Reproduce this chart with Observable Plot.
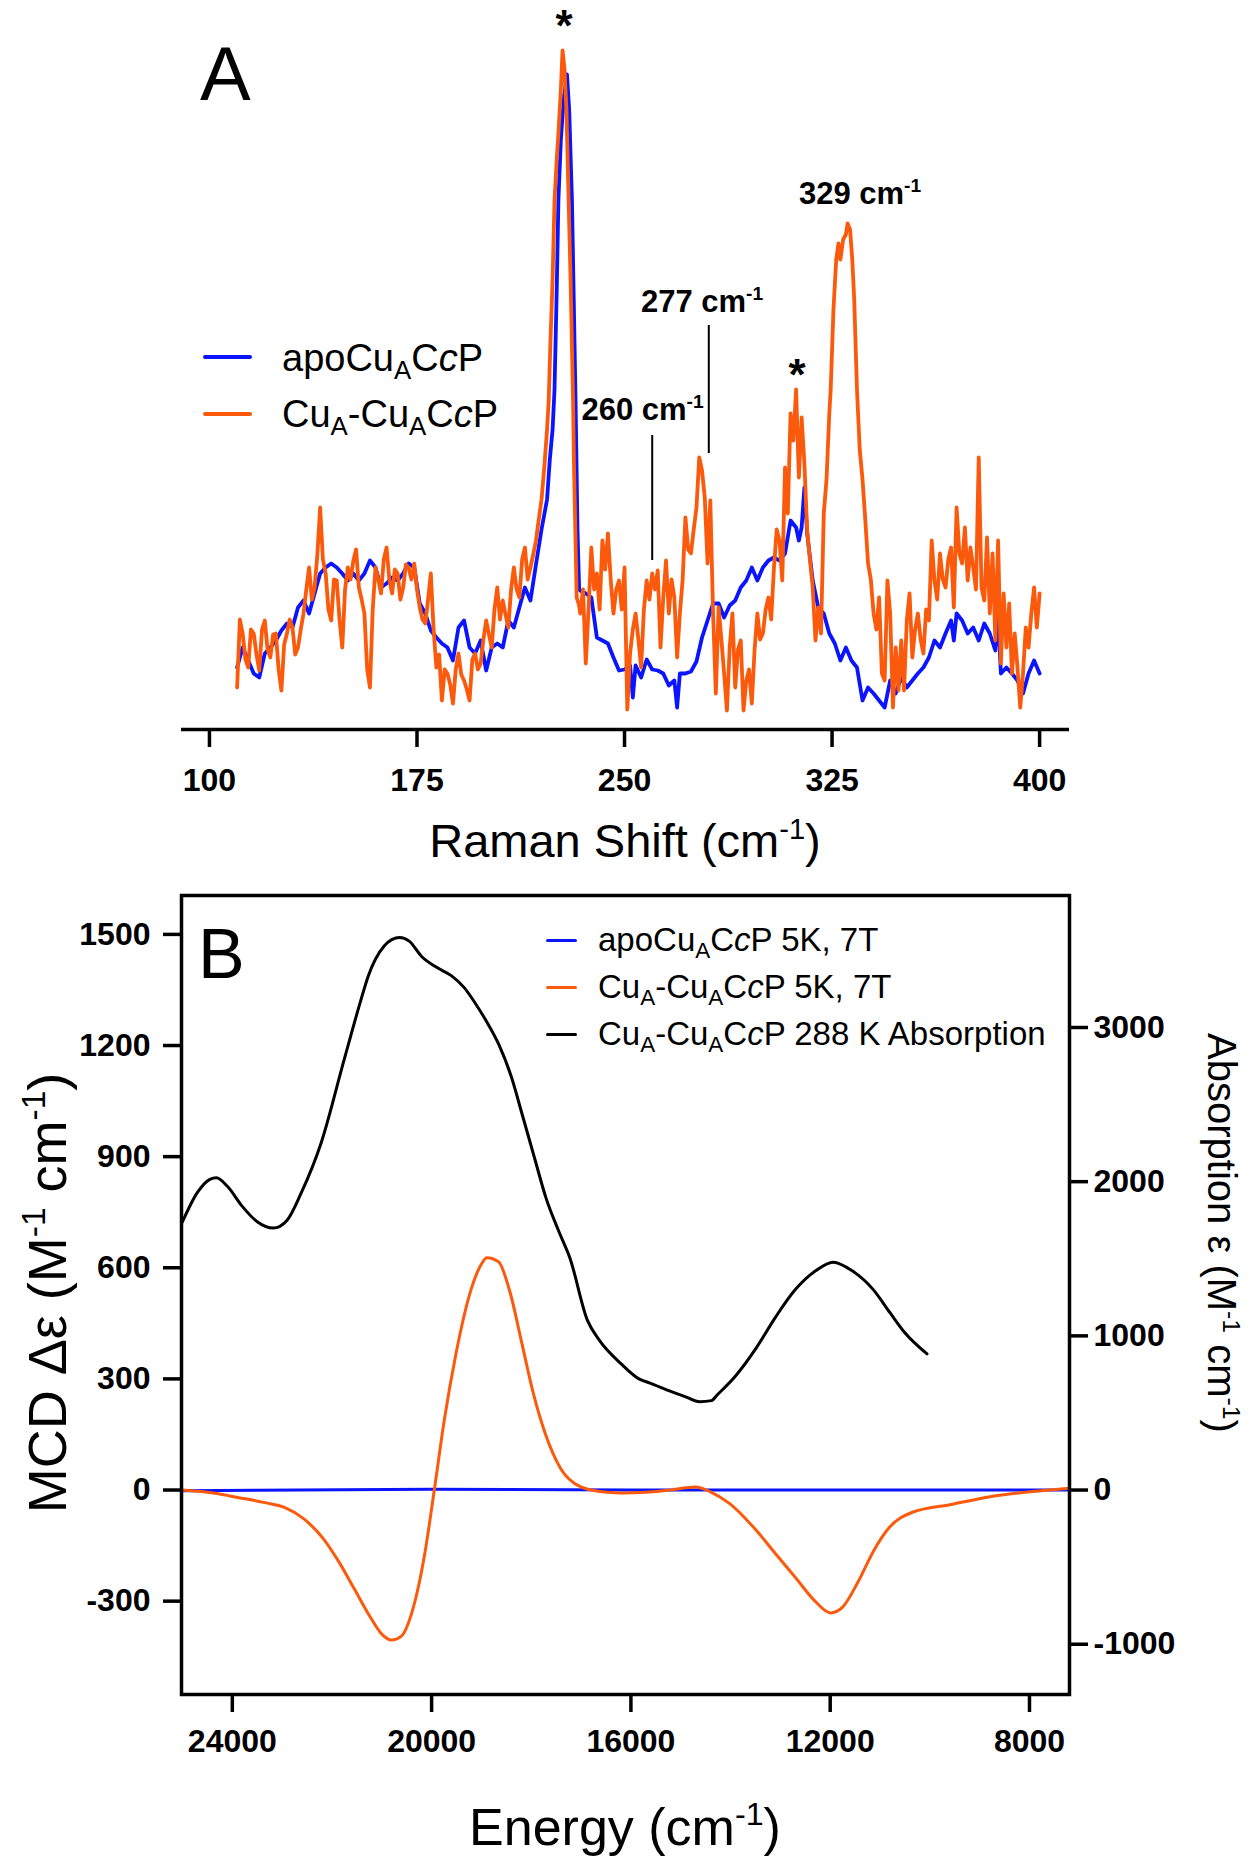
<!DOCTYPE html>
<html><head><meta charset="utf-8">
<script src="https://cdn.jsdelivr.net/npm/d3@7"></script>
<script src="https://cdn.jsdelivr.net/npm/@observablehq/plot@0.6"></script>
<style>
html,body{margin:0;padding:0;background:#fff;}
#wrap{position:relative;width:1260px;height:1861px;overflow:hidden;background:#fff;font-family:"Liberation Sans",Arial,sans-serif;color:#000;}
#wrap svg{position:absolute;left:0;}
.abs{position:absolute;white-space:nowrap;line-height:1;}
.sup{font-size:.62em;position:relative;top:-.62em;}
.sub{font-size:.68em;position:relative;top:.32em;}
.ln{position:absolute;}
</style></head><body><div id="wrap"></div>
<script>
// ---------- Panel A: Raman data ----------
const ramanTicks = [100, 175, 250, 325, 400];
const cuaShift = [110,111,112,113,114,115,116,117,118,119,120,121,122,123,124,125,126,127,128,129,130,131,132,133,134,135,136,137,138,139,140,141,142,143,144,145,146,147,148,149,150,151,152,153,154,155,156,157,158,159,160,161,162,163,164,165,166,167,168,169,170,171,172,173,174,175,176,177,178,179,180,181,182,183,184,185,186,187,188,189,190,191,192,193,194,195,196,197,198,199,200,201,202,203,204,205,206,207,208,209,210,211,212,213,214,215,216,217,218,219,220,221,222,222.6,223.2,224,224.7,225.5,226.1,227,227.6,228.3,229,229.8,230.5,231.4,231.7,232.7,233.5,234,235,236,237,238,239,240,241,242,243,244,245,246,247,248,249,250,251,252,253,254,255,256,257,258,259,260,261,262,263,264,265,266,267,268,269,270,271,272,273,274,275,276,277,278,279,280,281,282,283,284,285,286,287,288,289,290,291,292,293,294,295,296,297,298,299,300,301,302,303,304,305,306,307,308,309,310,311,312,313,314,315,316,317,318,319,320,321,322,323,324,324.5,325.5,326.5,327.3,328,329,330,330.6,331.5,332.3,333,334,335,336,337,338,339,340,341,342,343,344,345,346,347,348,349,350,351,352,353,354,355,356,357,358,359,360,361,362,363,364,365,366,367,368,369,370,371,372,373,374,375,376,377,378,379,380,381,382,383,384,385,386,387,388,389,390,391,392,393,394,395,396,397,398,399,400];
const cuaInt = [42,110,96,70,62,100,96,75,59,100,109,80,72,95,96,60,39,85,96,110,102,75,82,100,116,140,162,130,142,175,222,170,156,120,109,150,149,110,82,140,162,150,169,180,142,130,116,60,42,120,162,150,136,170,182,150,136,160,156,130,142,165,162,150,166,140,122,110,106,130,156,100,62,75,29,60,56,45,26,60,76,55,49,40,29,70,76,60,66,90,109,95,82,120,142,110,129,115,102,140,162,140,132,170,182,150,162,175,189,210,230,262,300,329,386,450,529,570,596,640,679,660,620,529,450,329,270,132,125,116,140,66,120,182,140,156,120,189,160,196,150,116,140,149,120,162,20,76,100,116,90,62,120,149,130,156,140,159,82,132,169,116,150,132,72,116,150,212,180,176,200,222,272,259,232,166,229,116,36,122,90,56,19,82,116,42,80,89,19,49,60,26,80,116,90,96,120,132,110,162,200,189,149,262,216,316,289,340,252,312,266,199,170,142,89,122,96,216,250,316,340,420,470,486,470,490,495,506,500,470,430,340,280,250,210,166,150,116,100,132,56,49,149,116,22,82,39,89,39,109,136,72,100,116,90,76,120,109,189,149,130,176,150,142,170,182,122,222,176,166,202,149,182,162,140,272,142,129,192,116,176,89,189,66,136,82,126,56,96,62,22,56,102,82,116,142,102,136];
const apoShift = [110,112,114,116,118,120,122,124,126,128,130,132,134,136,138,140,142,144,146,148,150,152,154,156,158,160,162,164,166,168,170,172,174,176,178,180,182,184,186,188,190,192,194,196,198,200,202,204,206,208,210,212,214,216,218,220,222,223,224,224.7,225.5,226.1,227,228,229.2,230,231,232.3,233,233.6,234,236,238,240,242,244,246,248,250,252,253,254,256,258,260,262,264,266,268,269,270,272,274,276,278,280,282,284,286,288,290,292,294,296,298,300,302,304,306,308,310,312,313,314,315,316,318,320,322,324,326,328,330,332,334,336,338,340,342,344,346,348,350,352,354,356,358,360,362,364,366,368,369,370,372,374,376,378,380,382,384,385,386,388,390,392,394,396,398,400];
const apoInt = [62,82,69,56,52,76,82,89,99,106,102,122,129,116,136,156,162,166,162,156,149,156,149,156,169,162,142,146,152,149,156,166,162,126,116,99,92,86,82,69,102,109,82,76,89,59,82,86,82,109,102,122,142,129,165,200,230,270,300,340,440,529,590,630,655,620,529,329,200,140,139,136,132,92,89,86,72,59,60,64,32,64,52,70,60,59,56,44,49,22,56,56,58,68,92,109,126,126,112,124,129,142,149,162,149,162,169,172,169,176,209,202,189,202,242,196,149,122,116,96,86,69,82,69,62,29,42,36,29,22,49,36,52,42,49,56,62,72,89,82,96,109,89,116,109,96,102,89,106,96,79,116,56,62,56,49,36,56,69,56];
const peakMarks = [{s:228.3, i:711}, {s:312.5, i:362}];
const peakLabels = [{t:"329", s:335.3, i:525}, {t:"277", s:278.2, i:417}, {t:"260", s:256.7, i:309}];
const markerLines = [{s:280.45, lo:276, hi:404}, {s:260.0, lo:169, hi:294}];

// ---------- Panel B: MCD / absorption data ----------
const energyTicks = [24000, 20000, 16000, 12000, 8000];
const mcdTicks = [-300, 0, 300, 600, 900, 1200, 1500];
const absTicks = [-1000, 0, 1000, 2000, 3000];
const mcdE = [25000,24283,23892,23344,22953,22564,22175,21861,21547,21235,21000,20806,20611,20375,20140,19946,19750,19517,19204,19000,18891,18657,18422,18187,17953,17718,17405,17016,16626,16200,15687,15200,14905,14700,14416,14023,13476,13085,12694,12305,11992,11757,11445,11132,10819,10350,9570,8788,8084,7200];
const mcdCuA = [0,-10,-20,-34,-47,-78,-131,-194,-268,-342,-389,-405,-395,-321,-174,0,185,364,543,610,627,616,532,395,258,152,57,9,-4,-8,-6,0,6,8,-4,-36,-110,-174,-237,-300,-332,-317,-249,-165,-102,-60,-39,-18,-6,5];
const apoE = [25000, 20000, 16000, 12000, 7200];
const mcdApo = [-2, 2, 0, 0, 0];
const absE = [25000,24700,24450,24321,24100,23800,23500,23178,22900,22617,22216,21754,21414,21273,20952,20800,20640,20450,20200,19900,19605,19350,19127,18900,18652,18400,18176,17940,17700,17450,17223,16872,16635,16200,15828,15617,15200,14913,14616,14383,14265,13900,13483,13100,12700,12300,11941,11550,11136,10800,10510,10057];
const absEps = [1740,1930,2015,2025,1970,1840,1740,1699,1750,1927,2253,2793,3184,3333,3529,3570,3584,3560,3460,3390,3336,3260,3159,3040,2890,2680,2429,2160,1890,1680,1504,1100,972,820,719,694,640,606,573,580,618,740,922,1120,1300,1420,1478,1420,1300,1150,1023,883];

const BLUE = "#0a14ff", ORANGE = "#fb5a0c";
const FONT = "Liberation Sans, Arial, sans-serif";
const wrap = document.getElementById("wrap");
const fmt = d => String(d);

const cuaRows = cuaShift.map((s, k) => ({s, i: cuaInt[k]}));
const apoRows = apoShift.map((s, k) => ({s, i: apoInt[k]}));

const baseStyle = {background: "transparent", fontFamily: FONT, fontSize: "32px", fontWeight: "bold", color: "#000", overflow: "visible"};

const plotA = Plot.plot({
  width: 1260, height: 870,
  marginLeft: 181, marginRight: 191, marginTop: 40, marginBottom: 141,
  style: baseStyle,
  x: {domain: [89.9, 410.8]},
  y: {domain: [0, 689], axis: null},
  marks: [
    Plot.line(apoRows, {x: "s", y: "i", stroke: BLUE, strokeWidth: 3.8, strokeLinejoin: "round"}),
    Plot.line(cuaRows, {x: "s", y: "i", stroke: ORANGE, strokeWidth: 3.8, strokeLinejoin: "round"}),
    Plot.ruleX(markerLines, {x: "s", y1: "lo", y2: "hi", stroke: "#000", strokeWidth: 2}),
    Plot.ruleY([0], {stroke: "#000", strokeWidth: 3.5}),
    Plot.axisX({ticks: ramanTicks, tickSize: 18, tickPadding: 21, strokeWidth: 3.5, tickFormat: fmt, label: null, fontSize: 32, fontWeight: "bold"})
  ]
});
plotA.style.top = "0px";
wrap.appendChild(plotA);

const mcdRows = mcdE.map((e, k) => ({e, m: mcdCuA[k]}));
const apoMcdRows = apoE.map((e, k) => ({e, m: mcdApo[k]}));
const absRows = absE.map((e, k) => ({e, a: absEps[k]}));
const B_TOP = 850;

const plotB = Plot.plot({
  width: 1260, height: 1011,
  marginLeft: 181, marginRight: 191, marginTop: 45, marginBottom: 167,
  style: baseStyle,
  x: {domain: [25020, 7197]},
  y: {domain: [-552, 1605]},
  marks: [
    Plot.line(apoMcdRows, {x: "e", y: "m", stroke: BLUE, strokeWidth: 3}),
    Plot.line(mcdRows, {x: "e", y: "m", stroke: ORANGE, strokeWidth: 3, curve: "monotone-x"}),
    Plot.axisX({ticks: energyTicks, tickSize: 18, tickPadding: 17, strokeWidth: 3.5, tickFormat: fmt, label: null, fontSize: 32, fontWeight: "bold"}),
    Plot.axisY({ticks: mcdTicks, tickSize: 18, tickPadding: 13, strokeWidth: 3.5, tickFormat: fmt, label: null, fontSize: 32, fontWeight: "bold"}),
    Plot.frame({stroke: "#000", strokeWidth: 3.5})
  ]
});
plotB.style.top = B_TOP + "px";
wrap.appendChild(plotB);

const plotB2 = Plot.plot({
  width: 1260, height: 1011,
  marginLeft: 181, marginRight: 191, marginTop: 45, marginBottom: 167,
  style: baseStyle,
  x: {domain: [25020, 7197], axis: null},
  y: {domain: [-1326, 3856]},
  marks: [
    Plot.line(absRows, {x: "e", y: "a", stroke: "#000", strokeWidth: 3, curve: "monotone-x"}),
    Plot.axisY({anchor: "right", ticks: absTicks, tickSize: 18, tickPadding: 6, strokeWidth: 3.5, tickFormat: fmt, label: null, fontSize: 32, fontWeight: "bold"})
  ]
});
plotB2.style.top = B_TOP + "px";
wrap.appendChild(plotB2);

// ---------- text helpers ----------
function put(html, x, baseline, size, opt = {}) {
  const d = document.createElement("div");
  d.className = "abs";
  d.innerHTML = html;
  d.style.fontSize = size + "px";
  d.style.left = x + "px";
  d.style.top = (baseline - 0.8465 * size) + "px";
  if (opt.weight) d.style.fontWeight = opt.weight;
  if (opt.anchor === "middle") d.style.transform = "translateX(-50%)";
  wrap.appendChild(d);
  return d;
}
function putRot(html, cx, cy, size, deg) {
  const d = document.createElement("div");
  d.className = "abs";
  d.innerHTML = html;
  d.style.fontSize = size + "px";
  d.style.left = cx + "px";
  d.style.top = cy + "px";
  d.style.transform = `translate(-50%,-50%) rotate(${deg}deg)`;
  wrap.appendChild(d);
}
function hline(x1, x2, y, color, w) {
  const d = document.createElement("div");
  d.className = "ln";
  d.style.left = x1 + "px";
  d.style.width = (x2 - x1) + "px";
  d.style.top = (y - w / 2) + "px";
  d.style.height = w + "px";
  d.style.background = color;
  d.style.borderRadius = (w / 2) + "px";
  wrap.appendChild(d);
}
const SUP = '<span class="sup">-1</span>';
const CUA = 'Cu<span class="sub">A</span>';
const CCP = 'C<i>c</i>P';

// Panel A annotations positioned through the plot's own scales
const sxA = plotA.scale("x"), syA = plotA.scale("y");
put("A", 200, 100, 76);
peakMarks.forEach(p => put("*", sxA.apply(p.s), syA.apply(p.i) + 23, 44, {weight: "bold", anchor: "middle"}));
peakLabels.forEach(p => put(`${p.t} cm${SUP}`, sxA.apply(p.s), syA.apply(p.i), 31, {weight: "bold", anchor: "middle"}));
hline(203, 252, 357, BLUE, 4);
hline(203, 252, 414, ORANGE, 4);
put(`apo${CUA}${CCP}`, 282, 371, 38);
put(`${CUA}-${CUA}${CCP}`, 282, 427, 38);
put(`Raman Shift (cm${SUP})`, 625, 857, 47, {anchor: "middle"});

// Panel B texts
put("B", 198, 978, 70);
hline(546, 577, 940, BLUE, 3);
hline(546, 577, 987, ORANGE, 3);
hline(546, 577, 1034, "#000", 3);
put(`apo${CUA}${CCP} 5K, 7T`, 598, 951, 33);
put(`${CUA}-${CUA}${CCP} 5K, 7T`, 598, 998, 33);
put(`${CUA}-${CUA}${CCP} 288 K Absorption`, 598, 1045, 33);
put(`Energy (cm${SUP})`, 625, 1845, 52, {anchor: "middle"});
putRot(`MCD Δε (M${SUP} cm${SUP})`, 47, 1293, 54, -90);
putRot(`Absorption ε (M${SUP} cm${SUP})`, 1222, 1233, 40, 90);
</script>
</body></html>
